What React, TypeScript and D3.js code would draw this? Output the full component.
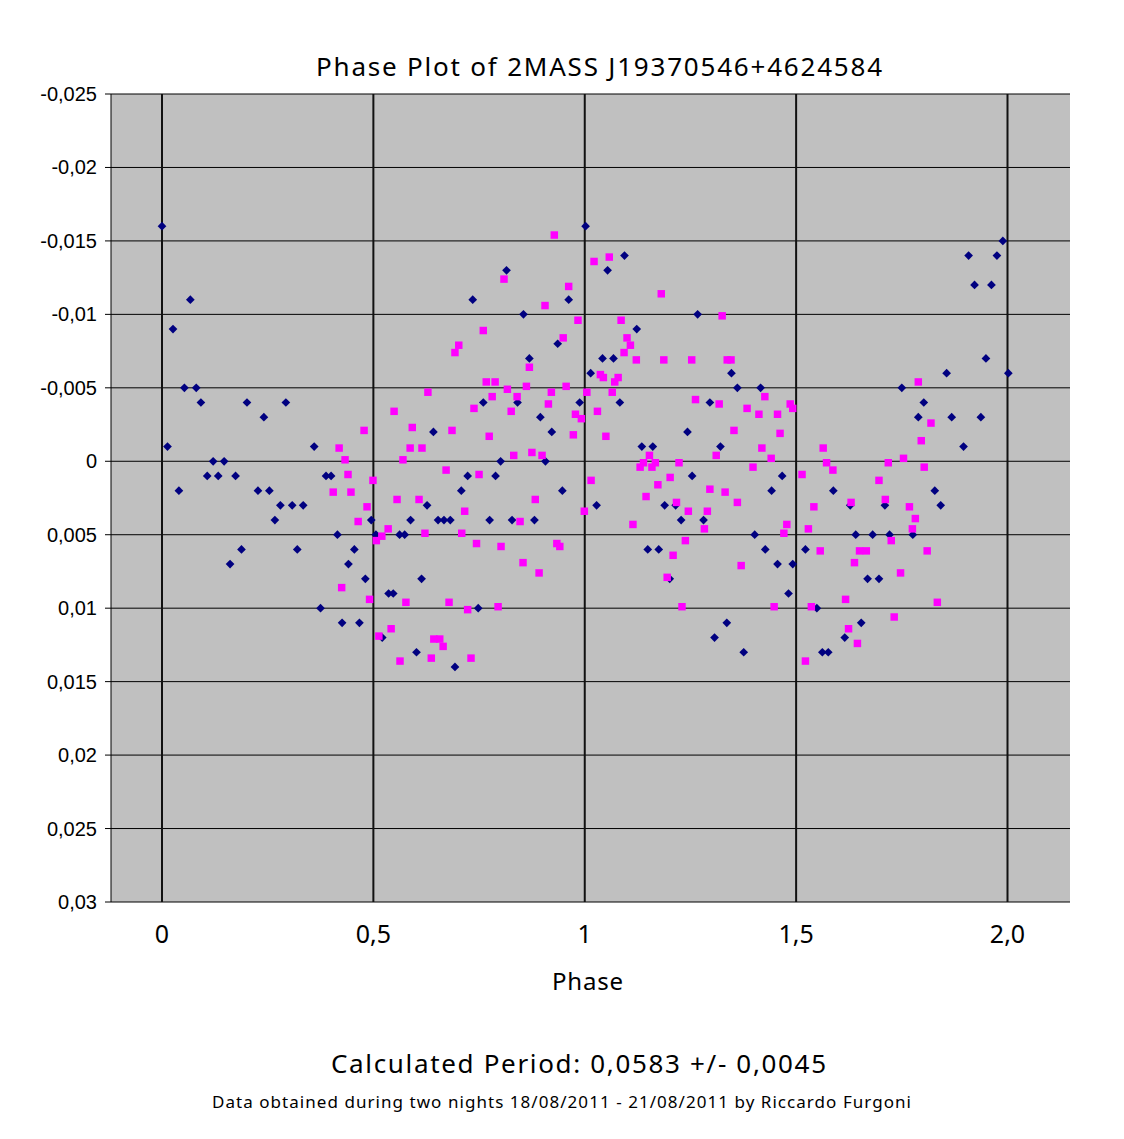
import * as d3 from "d3";
import { FC } from "react";

// night 1 (navy diamonds)
const NAVY_PHASE: number[] = [
  0.0, 0.013, 0.026, 0.04, 0.053, 0.067, 0.081, 0.092, 0.107, 0.121, 0.133,
  0.147, 0.161, 0.174, 0.188, 0.201, 0.227, 0.241, 0.254, 0.267, 0.28, 0.293,
  0.308, 0.32, 0.334, 0.36, 0.375, 0.388, 0.4, 0.415, 0.426, 0.441, 0.455,
  0.467, 0.481, 0.495, 0.506, 0.521, 0.536, 0.547, 0.562, 0.574, 0.588, 0.602,
  0.614, 0.627, 0.642, 0.653, 0.667, 0.682, 0.693, 0.708, 0.723, 0.735, 0.748,
  0.76, 0.775, 0.789, 0.801, 0.815, 0.828, 0.841, 0.855, 0.869, 0.881, 0.895,
  0.907, 0.922, 0.936, 0.947, 0.962, 0.988, 1.002, 1.014, 1.028, 1.042, 1.054,
  1.068, 1.083, 1.094, 1.123, 1.135, 1.149, 1.161, 1.175, 1.189, 1.201, 1.215,
  1.228, 1.243, 1.254, 1.267, 1.281, 1.296, 1.307, 1.321, 1.336, 1.347, 1.361,
  1.376, 1.402, 1.416, 1.427, 1.442, 1.456, 1.467, 1.482, 1.492, 1.522, 1.549,
  1.562, 1.576, 1.588, 1.615, 1.628, 1.641, 1.654, 1.669, 1.681, 1.696, 1.71,
  1.721, 1.75, 1.776, 1.789, 1.802, 1.828, 1.842, 1.856, 1.868, 1.896, 1.908,
  1.922, 1.937, 1.949, 1.962, 1.975, 1.989, 2.002,
];
const NAVY_MAG: number[] = [
  -0.016, -0.001, -0.009, 0.002, -0.005, -0.011, -0.005, -0.004, 0.001, 0.0,
  0.001, 0.0, 0.007, 0.001, 0.006, -0.004, 0.002, -0.003, 0.002, 0.004, 0.003,
  -0.004, 0.003, 0.006, 0.003, -0.001, 0.01, 0.001, 0.001, 0.005, 0.011, 0.007,
  0.006, 0.011, 0.008, 0.004, 0.005, 0.012, 0.009, 0.009, 0.005, 0.005, 0.004,
  0.013, 0.008, 0.003, -0.002, 0.004, 0.004, 0.004, 0.014, 0.002, 0.001, -0.011,
  0.01, -0.004, 0.004, 0.001, 0.0, -0.013, 0.004, -0.004, -0.01, -0.007, 0.004,
  -0.003, 0.0, -0.002, -0.008, 0.002, -0.011, -0.004, -0.016, -0.006, 0.003,
  -0.007, -0.013, -0.007, -0.004, -0.014, -0.009, -0.001, 0.006, -0.001, 0.006,
  0.003, 0.008, 0.003, 0.004, -0.002, 0.001, -0.01, 0.004, -0.004, 0.012,
  -0.001, 0.011, -0.006, -0.005, 0.013, 0.005, -0.005, 0.006, 0.002, 0.007,
  0.001, 0.009, 0.007, 0.006, 0.01, 0.013, 0.013, 0.002, 0.012, 0.003, 0.005,
  0.011, 0.008, 0.005, 0.008, 0.003, 0.005, -0.005, 0.005, -0.003, -0.004,
  0.002, 0.003, -0.006, -0.003, -0.001, -0.014, -0.012, -0.003, -0.007, -0.012,
  -0.014, -0.015, -0.006,
];

// night 2 (magenta squares)
const PINK_PHASE: number[] = [
  0.405, 0.419, 0.425, 0.433, 0.44, 0.447, 0.464, 0.478, 0.485, 0.491, 0.499,
  0.507, 0.513, 0.52, 0.535, 0.542, 0.549, 0.556, 0.563, 0.57, 0.577, 0.587,
  0.592, 0.608, 0.615, 0.622, 0.629, 0.637, 0.643, 0.657, 0.665, 0.672, 0.679,
  0.686, 0.693, 0.702, 0.709, 0.716, 0.723, 0.731, 0.738, 0.744, 0.75, 0.76,
  0.767, 0.774, 0.781, 0.788, 0.795, 0.802, 0.809, 0.817, 0.826, 0.832, 0.84,
  0.847, 0.854, 0.862, 0.869, 0.875, 0.883, 0.892, 0.899, 0.906, 0.914, 0.921,
  0.928, 0.934, 0.941, 0.949, 0.956, 0.962, 0.973, 0.978, 0.984, 0.992, 0.999,
  1.005, 1.015, 1.022, 1.03, 1.037, 1.044, 1.05, 1.058, 1.065, 1.071, 1.079,
  1.086, 1.093, 1.1, 1.108, 1.114, 1.122, 1.131, 1.139, 1.145, 1.153, 1.159,
  1.167, 1.173, 1.181, 1.187, 1.195, 1.202, 1.209, 1.217, 1.223, 1.23, 1.238,
  1.245, 1.253, 1.262, 1.283, 1.29, 1.296, 1.311, 1.318, 1.325, 1.332, 1.337,
  1.346, 1.353, 1.361, 1.37, 1.384, 1.398, 1.412, 1.419, 1.426, 1.441, 1.448,
  1.456, 1.462, 1.471, 1.478, 1.486, 1.492, 1.514, 1.522, 1.529, 1.536, 1.542,
  1.557, 1.564, 1.572, 1.587, 1.617, 1.624, 1.63, 1.638, 1.645, 1.65, 1.666,
  1.696, 1.711, 1.718, 1.725, 1.732, 1.747, 1.754, 1.768, 1.775, 1.782, 1.789,
  1.796, 1.803, 1.81, 1.819, 1.834,
];
const PINK_MAG: number[] = [
  0.0021, -0.0009, 0.0086, -0.0001, 0.0009, 0.0021, 0.0041, -0.0021, 0.0031,
  0.0094, 0.0013, 0.0054, 0.0119, 0.0051, 0.0046, 0.0114, -0.0034, 0.0026,
  0.0136, -0.0001, 0.0096, -0.0009, -0.0023, 0.0026, -0.0009, 0.0049, -0.0047,
  0.0134, 0.0121, 0.0121, 0.0126, 0.0006, 0.0096, -0.0021, -0.0074, -0.0079,
  0.0049, 0.0034, 0.0101, 0.0134, -0.0036, 0.0056, 0.0009, -0.0089, -0.0054,
  -0.0017, -0.0044, -0.0054, 0.0099, 0.0058, -0.0124, -0.0049, -0.0034,
  -0.0004, -0.0044, 0.0041, 0.0069, -0.0051, -0.0064, -0.0006, 0.0026, 0.0076,
  -0.0004, -0.0106, -0.0039, -0.0047, -0.0154, 0.0056, 0.0058, -0.0084,
  -0.0051, -0.0119, -0.0018, -0.0032, -0.0096, -0.0029, 0.0034, -0.0047,
  0.0013, -0.0136, -0.0034, -0.0059, -0.0057, -0.0017, -0.0139, -0.0047,
  -0.0054, -0.0057, -0.0096, -0.0074, -0.0084, -0.0079, 0.0043, -0.0069,
  0.0004, 0.0001, 0.0024, -0.0004, 0.0004, 0.0001, 0.0016, -0.0114, -0.0069,
  0.0079, 0.0011, 0.0064, 0.0028, 0.0001, 0.0099, 0.0054, 0.0034, -0.0069,
  -0.0042, 0.0046, 0.0034, 0.0019, -0.0004, -0.0039, -0.0099, 0.0021, -0.0069,
  -0.0069, -0.0021, 0.0028, 0.0071, -0.0036, 0.0004, -0.0032, -0.0009,
  -0.0044, -0.0002, 0.0099, -0.0032, -0.0019, 0.0049, 0.0043, -0.0039,
  -0.0036, 0.0009, 0.0136, 0.0046, 0.0099, 0.0031, 0.0061, -0.0009, 0.0001,
  0.0006, 0.0094, 0.0114, 0.0028, 0.0069, 0.0124, 0.0061, 0.0061, 0.0013,
  0.0026, 0.0001, 0.0054, 0.0106, 0.0076, -0.0002, 0.0031, 0.0046, 0.0039,
  -0.0054, -0.0014, 0.0004, 0.0061, -0.0026, 0.0096,
];

const Y_TICKS: number[] = [
  -0.025, -0.02, -0.015, -0.01, -0.005, 0, 0.005, 0.01, 0.015, 0.02, 0.025,
  0.03,
];
const Y_TICK_LABELS: string[] = [
  "-0,025", "-0,02", "-0,015", "-0,01", "-0,005", "0", "0,005", "0,01",
  "0,015", "0,02", "0,025", "0,03",
];
const X_TICKS: number[] = [0, 0.5, 1, 1.5, 2];
const X_TICK_LABELS: string[] = ["0", "0,5", "1", "1,5", "2,0"];

const W = 1124;
const H = 1139;
const LEFT = 111;
const RIGHT = 1070;
const TOP = 94;
const BOTTOM = 902;
const GOTHIC = "'Noto Sans', Lato, sans-serif";

const App: FC = () => {
  const x = d3.scaleLinear().domain([0, 2]).range([162, 1007.5]);
  const y = d3.scaleLinear().domain([-0.025, 0.03]).range([TOP, BOTTOM]);

  const square = d3.symbol(d3.symbolSquare, 56)() || "";
  const diamond = d3.symbol(d3.symbolSquare, 38)() || "";

  return (
    <svg
      width={W}
      height={H}
      style={{ position: "absolute", left: 0, top: 0, background: "#fff" }}
    >
      <text
        x={599}
        y={76}
        textAnchor="middle"
        fontFamily={GOTHIC}
        fontSize={26}
        textLength={566}
      >
        Phase Plot of 2MASS J19370546+4624584
      </text>

      <rect
        x={LEFT}
        y={TOP}
        width={RIGHT - LEFT}
        height={BOTTOM - TOP}
        fill="#c0c0c0"
      />

      {Y_TICKS.map((t) => (
        <line
          key={`h${t}`}
          x1={LEFT - 6}
          x2={RIGHT}
          y1={y(t)}
          y2={y(t)}
          stroke="#000"
          strokeWidth={1}
        />
      ))}
      {X_TICKS.map((t) => (
        <line
          key={`v${t}`}
          x1={x(t)}
          x2={x(t)}
          y1={TOP}
          y2={BOTTOM}
          stroke="#111"
          strokeWidth={2}
        />
      ))}
      <line x1={LEFT} x2={LEFT} y1={TOP} y2={BOTTOM} stroke="#000" />

      {Y_TICKS.map((t, i) => (
        <text
          key={`yl${t}`}
          x={97}
          y={y(t) + 7}
          textAnchor="end"
          fontFamily="'Liberation Sans', Arial, sans-serif"
          fontSize={20}
        >
          {Y_TICK_LABELS[i]}
        </text>
      ))}
      {X_TICKS.map((t, i) => (
        <text
          key={`xl${t}`}
          x={x(t)}
          y={943}
          textAnchor="middle"
          fontFamily={GOTHIC}
          fontSize={25}
        >
          {X_TICK_LABELS[i]}
        </text>
      ))}

      <g>
        {NAVY_PHASE.map((p, i) => (
          <path
            key={`n${i}`}
            d={diamond}
            transform={`translate(${x(p)},${y(NAVY_MAG[i])}) rotate(45)`}
            fill="#000080"
          />
        ))}
      </g>
      <g>
        {PINK_PHASE.map((p, i) => (
          <path
            key={`p${i}`}
            d={square}
            transform={`translate(${x(p)},${y(PINK_MAG[i])})`}
            fill="#ff00ff"
          />
        ))}
      </g>

      <text
        x={587.5}
        y={990}
        textAnchor="middle"
        fontFamily={GOTHIC}
        fontSize={24}
        textLength={71}
      >
        Phase
      </text>
      <text
        x={578.5}
        y={1073}
        textAnchor="middle"
        fontFamily={GOTHIC}
        fontSize={26}
        textLength={495}
      >
        Calculated Period: 0,0583 +/- 0,0045
      </text>
      <text
        x={561.5}
        y={1108}
        textAnchor="middle"
        fontFamily={GOTHIC}
        fontSize={17}
        textLength={699}
      >
        Data obtained during two nights 18/08/2011 - 21/08/2011 by Riccardo
        Furgoni
      </text>
    </svg>
  );
};

export default App;
